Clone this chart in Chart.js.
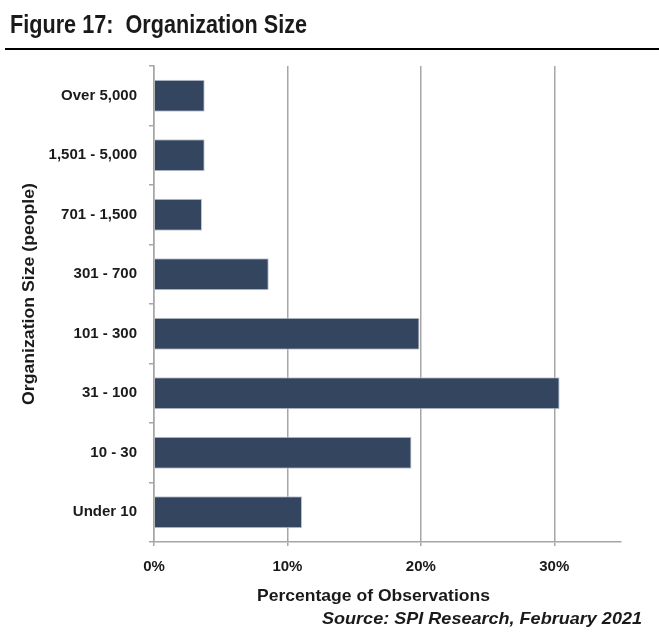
<!DOCTYPE html>
<html>
<head>
<meta charset="utf-8">
<script src="https://cdn.jsdelivr.net/npm/chart.js@4/dist/chart.umd.min.js"></script>
<style>
  html, body { margin: 0; padding: 0; background: #ffffff; }
  body { width: 659px; height: 642px; position: relative; overflow: hidden;
         font-family: "Liberation Sans Narrow", "Arial Narrow", "Liberation Sans", Arial, sans-serif; color: #1a1a1a; }
  #wrap { position: absolute; left: 0; top: 0; width: 659px; height: 642px; }
  .txt { position: absolute; white-space: nowrap; font-weight: bold; line-height: 1; }
  #title { left: 10px; top: 11px; font-size: 26px; transform-origin: left center; }
  #rule { position: absolute; left: 5px; right: 0; top: 48px; height: 2px; background: #000; }
  #ytitle { font-size: 17px; left: 28.5px; top: 294px; transform-origin: 0 0; }
  #xtitle { font-size: 17px; top: 587px; }
  #source { font-size: 17px; font-style: italic; top: 610px; }
</style>
</head>
<body>
<div id="wrap"><canvas id="c" width="659" height="642"></canvas></div>
<div id="title" class="txt">Figure 17:&nbsp; Organization Size</div>
<div id="rule"></div>
<div id="ytitle" class="txt">Organization Size (people)</div>
<div id="xtitle" class="txt">Percentage of Observations</div>
<div id="source" class="txt">Source: SPI Research, February 2021</div>
<script>
// ---- data ----
const categories = ["Over 5,000", "1,501 - 5,000", "701 - 1,500", "301 - 700", "101 - 300", "31 - 100", "10 - 30", "Under 10"];
const values = [3.8, 3.8, 3.6, 8.6, 19.9, 30.4, 19.3, 11.1];
const xTickValues = [0, 10, 20, 30];
const xMax = 35;

// ---- text placement helpers ----
function fitH(el, left, width) {
  const w = el.getBoundingClientRect().width;
  el.style.left = left + 'px';
  el.style.transformOrigin = 'left center';
  el.style.transform = 'scaleX(' + (width / w) + ')';
}
fitH(document.getElementById('title'), 10, 297);
fitH(document.getElementById('xtitle'), 257, 233);
fitH(document.getElementById('source'), 322, 320);
(function () {
  const el = document.getElementById('ytitle');
  const r = el.getBoundingClientRect();
  const w = r.width, h = r.height;
  const s = 222 / w;
  const cx = 28.5, cy = 294;
  el.style.left = '0px'; el.style.top = '0px';
  el.style.transformOrigin = '0 0';
  el.style.transform = 'translate(' + (cx - h / 2) + 'px,' + (cy + w * s / 2) + 'px) rotate(-90deg) scaleX(' + s + ')';
})();

// ---- chart ----
const FONT = '"Liberation Sans Narrow", "Arial Narrow", "Liberation Sans", Arial, sans-serif';
Chart.defaults.font.family = FONT;
Chart.defaults.color = '#1a1a1a';

new Chart(document.getElementById('c'), {
  type: 'bar',
  data: {
    labels: categories,
    datasets: [{
      data: values,
      backgroundColor: '#33455f',
      borderColor: '#c3c9d4',
      borderWidth: 1,
      categoryPercentage: 1,
      barPercentage: 0.54
    }]
  },
  options: {
    indexAxis: 'y',
    responsive: false,
    animation: false,
    layout: { padding: { top: 66, right: 38, left: 0, bottom: 0 } },
    plugins: { legend: { display: false }, tooltip: { enabled: false } },
    scales: {
      x: {
        min: 0, max: xMax,
        afterBuildTicks: (s) => { s.ticks = xTickValues.map(v => ({ value: v })); },
        afterFit: (s) => { s.height = 100; },
        grid: { color: '#a6a6a6', lineWidth: 1.5, tickLength: 4, drawTicks: true },
        border: { color: '#a6a6a6', width: 1.5 },
        ticks: { callback: (v) => v + '%', font: { size: 15, weight: 'bold' }, padding: 12, maxRotation: 0 }
      },
      y: {
        afterFit: (s) => { s.width = 154; },
        grid: { drawOnChartArea: false, color: '#a6a6a6', lineWidth: 1.5, tickLength: 5, offset: true },
        border: { color: '#a6a6a6', width: 1.5 },
        ticks: { font: { size: 15, weight: 'bold' }, padding: 12 }
      }
    }
  }
});
</script>
</body>
</html>
